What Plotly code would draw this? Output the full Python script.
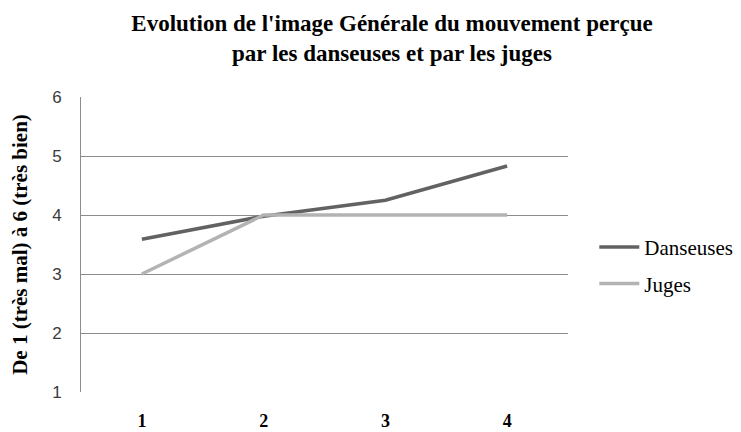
import plotly.graph_objects as go

categories = [1, 2, 3, 4]
danseuses = [3.59, 3.98, 4.25, 4.83]
juges = [3.0, 4.0, 4.0, 4.0]
y_ticks = [1, 2, 3, 4, 5, 6]

fig = go.Figure()
fig.add_trace(go.Scatter(x=categories, y=danseuses, mode="lines", name="Danseuses",
                         legendgroup="a", line=dict(color="#626262", width=3.5)))
fig.add_trace(go.Scatter(x=categories, y=juges, mode="lines", name="Juges",
                         legendgroup="b", line=dict(color="#b3b3b3", width=3.5)))

# body has an 8px default margin, so the figure is 16px smaller than the window
W, H = 733, 424
L, R, T, B = 73, 173, 89, 40

fig.update_layout(
    width=W, height=H,
    margin=dict(l=L, r=R, t=T, b=B, autoexpand=False),
    paper_bgcolor="white", plot_bgcolor="white",
    title=dict(text="Evolution de l'image Générale du mouvement perçue<br>par les danseuses et par les juges",
               x=(384 - L) / (W - L - R), xref="paper", xanchor="center",
               yref="container", y=1 - 23 / H, yanchor="middle",
               font=dict(family="Liberation Serif", size=23, color="black", weight="bold")),
    xaxis=dict(range=[0.5, 4.5], tickvals=categories, ticktext=[str(c) for c in categories],
               showgrid=False, zeroline=False, showline=False, ticks="", automargin=False,
               tickfont=dict(family="Liberation Serif", size=18, color="black", weight="bold"),
               ticklabelstandoff=16),
    yaxis=dict(range=[1, 6], tickvals=y_ticks, showgrid=True, gridcolor="#8c8c8c", gridwidth=1,
               zeroline=False, showline=True, linecolor="#8c8c8c", linewidth=1, ticks="",
               automargin=False,
               tickfont=dict(family="Liberation Sans", size=17, color="#3a3a3a"),
               ticklabelstandoff=15,
               title=dict(text="De 1 (très mal) à 6 (très bien)", standoff=26,
                          font=dict(family="Liberation Serif", size=21, color="black", weight="bold"))),
    legend=dict(x=1.054, y=0.429, xanchor="left", yanchor="middle",
                font=dict(family="Liberation Serif", size=21, color="black"),
                tracegroupgap=6, itemwidth=40),
    showlegend=True,
)
fig.write_html("out.html")
